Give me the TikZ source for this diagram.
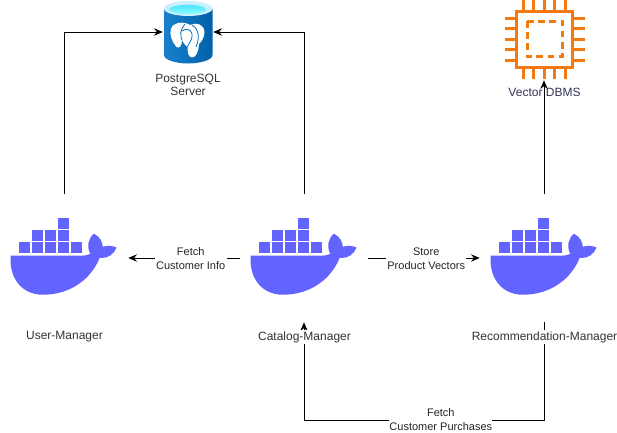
\documentclass[tikz,border=0pt]{standalone}
\usepackage{fontspec}
\setmainfont{Liberation Sans}
\usetikzlibrary{arrows.meta}
\definecolor{whaleblue}{HTML}{6363FF}
\definecolor{awsorange}{HTML}{F47A10}
\definecolor{pgblue}{HTML}{0072C6}
\definecolor{labelgray}{HTML}{333333}
\tikzset{
  box/.style={draw=none,minimum size=96pt,inner sep=0pt},
  lbl/.style={font=\fontsize{9}{10.2}\selectfont,text=labelgray,align=center,inner sep=1pt},
  edgelbl/.style={font=\fontsize{8.25}{10.8}\selectfont,text=black!85,align=center,fill=white,inner sep=1pt},
  conn/.style={draw=black,line width=0.75pt,-{Stealth[length=6.5pt,width=5.5pt]}},
  whale/.pic={
    \foreach \x in {19.3,32.6,45.6,58.7,71.7}
      \fill[whaleblue] (\x,48.7) rectangle +(11,11);
    \foreach \x in {32.6,45.6,58.7}
      \fill[whaleblue] (\x,36.7) rectangle +(11,11);
    \fill[whaleblue] (58.7,24.7) rectangle +(11,11);
    \fill[whaleblue] (11,62) -- (80,62) .. controls (84,62) and (88,61.5) .. (90.5,60)
      .. controls (87,53) and (88,45) .. (94.3,40)
      .. controls (100,43) and (103,48) .. (103,53)
      .. controls (108,51.5) and (113,52) .. (116.7,53.7)
      .. controls (115,60) and (108,65) .. (100,64)
      .. controls (92,84) and (72,101) .. (43,101)
      .. controls (22,101) and (9,84) .. (11,62) -- cycle;
  },
  cpu/.pic={
    \draw[awsorange,line width=2.25pt] (516.5,11.5) rectangle (572.5,67.5);
    \draw[awsorange,line width=2.25pt,dash pattern=on 5pt off 3.4pt] (527,21) rectangle (562,56.5);
    \foreach \p in {523.3,533.8,544,554.7,565.3} {
      \draw[awsorange,line width=2.25pt] (\p,0) -- (\p,10);
      \draw[awsorange,line width=2.25pt] (\p,69) -- (\p,78.5);
    }
    \foreach \p in {18,28.3,39,49.3,60} {
      \draw[awsorange,line width=2.25pt] (505,\p) -- (515,\p);
      \draw[awsorange,line width=2.25pt] (574,\p) -- (585,\p);
    }
  },
  pgdb/.pic={
    \shade[left color=pgblue!90!white,right color=pgblue!85!black] (164,9) -- (164,55)
      .. controls (164,60) and (176,63.5) .. (188,63.5)
      .. controls (200,63.5) and (212.5,60) .. (212.5,55) -- (212.5,9) -- cycle;
    \fill[cyan!20!white] (188.2,8.5) ellipse (24.3 and 7.5);
    \shade[top color=cyan!85!blue!70!white,bottom color=cyan!45!white] (187.5,9.5) ellipse (18.5 and 4.7);
    \fill[white] (178,23) .. controls (183,22) and (188,23.5) .. (190,25)
      .. controls (196,22) and (204,24) .. (204.5,32)
      .. controls (204.5,38) and (201,42) .. (199,44)
      .. controls (199,50) and (196,58) .. (192,57.5)
      .. controls (188,57) and (187.5,52) .. (187.5,47)
      .. controls (185,45) and (183,43) .. (182,40)
      .. controls (182,46) and (179,49) .. (176.5,47)
      .. controls (172,42) and (169,34) .. (171,29)
      .. controls (172,25.5) and (175,23.5) .. (178,23) -- cycle;
    \draw[pgblue,line width=0.6pt] (185,24) .. controls (180,29) and (180,36) .. (182,40);
    \draw[pgblue,line width=0.6pt] (192,25) .. controls (199,29) and (200,38) .. (196,47);
    \draw[pgblue,line width=0.6pt] (182,31) .. controls (187,27) and (193,30) .. (192,37)
      .. controls (191,42) and (188,44) .. (187.5,47);
  }
}
\begin{document}
\begin{tikzpicture}[x=0.75pt,y=-0.75pt]
  \useasboundingbox (0,0) rectangle (617,432);
  % nodes
  \node[box] (usermgr) at (64,258) {};
  \node[box] (catalogmgr) at (304,258) {};
  \node[box] (recmgr) at (544,258) {};
  \node[draw=none,minimum width=37.5pt,minimum height=45pt,inner sep=0pt] (postgres) at (188,32) {};
  \node[draw=none,minimum width=60pt,minimum height=60pt,inner sep=0pt] (vectordb) at (544,40) {};
  \coordinate (uppercorner) at (64,32);
  \coordinate (lowerright) at (544,420);
  \coordinate (lowerleft) at (304,420);
  % icons
  \pic at (usermgr.north west) {whale};
  \pic at (catalogmgr.north west) {whale};
  \pic at (recmgr.north west) {whale};
  \pic at (0,0) {pgdb};
  \pic at (0,0) {cpu};
  % labels
  \node[lbl] (usermgrlabel) at (64.5,337) {User-Manager};
  \node[lbl] (pgserverlabel) at (188,85) {PostgreSQL\\Server};
  \node[lbl,text=black!75!blue!60!gray] (vectorlabel) at (544.5,92) {Vector DBMS};
  % connectors
  \draw[conn] (usermgr.north) -- (uppercorner) -- (postgres.west);
  \draw[conn] (catalogmgr.north) |- (postgres.east);
  \draw[conn] (recmgr.north) -- (vectordb.south);
  \draw[conn] (catalogmgr.west) -- node[edgelbl,pos=0.44,yshift=-0.6pt] (fetchinfo) {Fetch\\Customer Info} (usermgr.east);
  \draw[conn] (catalogmgr.east) -- node[edgelbl,pos=0.52,yshift=-0.6pt] (storevec) {Store\\Product Vectors} (recmgr.west);
  \draw[conn] (recmgr.south) -- (lowerright) -- node[edgelbl,pos=0.43,yshift=0.3pt,inner sep=0pt] (fetchpurch) {Fetch\\Customer Purchases} (lowerleft) -- (catalogmgr.south);
  \node[lbl,fill=white] (catalogmgrlabel) at (304.5,337) {Catalog-Manager};
  \node[lbl,fill=white] (recmgrlabel) at (544.5,337) {Recommendation-Manager};
\end{tikzpicture}
\end{document}
